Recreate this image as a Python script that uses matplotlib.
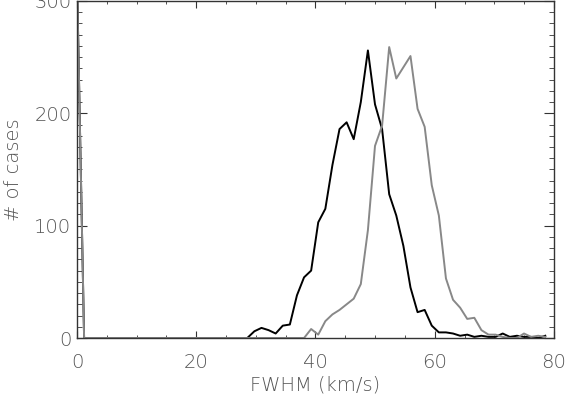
from matplotlib import pyplot as plt
from matplotlib.ticker import MultipleLocator
import numpy as np

# bin width of the histograms (km/s)
dv = 1.19

# counts per bin, index 0 .. 66
black_counts = [320] + [0] * 23 + [
    0, 6, 9, 7, 4, 11, 12, 38, 54, 60,
    103, 115, 154, 186, 192, 177, 210, 256, 208, 186,
    128, 109, 82, 45, 23, 25, 11, 5, 5, 4,
    2, 3, 1, 2, 1, 1, 4, 1, 2, 1,
    1, 0, 2]
gray_counts = [320] + [0] * 31 + [
    0, 8, 3, 15, 21, 25, 30, 35, 48, 96,
    171, 189, 259, 231, 241, 251, 204, 188, 136, 109,
    53, 34, 27, 17, 18, 7, 3, 3, 1, 0,
    0, 4, 1, 2, 1]

x_black = np.arange(len(black_counts)) * dv
x_gray = np.arange(len(gray_counts)) * dv

plt.rcParams["font.family"] = ["DejaVu Sans"]
plt.rcParams["font.weight"] = 200
plt.rcParams["axes.labelweight"] = 200
txt = "#555555"

fig = plt.figure(figsize=(5.65, 3.97), dpi=100)
ax = fig.add_axes([0.1363, 0.1486, 0.8442, 0.8489])

ax.plot(x_black, black_counts, color="black", lw=1.4)
ax.plot(x_gray, gray_counts, color="#888888", lw=1.4)

ax.set_xlim(0, 80)
ax.set_ylim(0, 300)
ax.xaxis.set_major_locator(MultipleLocator(20))
ax.xaxis.set_minor_locator(MultipleLocator(5))
ax.yaxis.set_major_locator(MultipleLocator(100))
ax.yaxis.set_minor_locator(MultipleLocator(10))

ax.tick_params(axis="x", which="both", direction="in", top=True, bottom=True,
               colors="#333333", labelcolor=txt, labelsize=14, pad=11)
ax.tick_params(axis="x", which="major", length=5)
ax.tick_params(axis="x", which="minor", length=2.5)
ax.tick_params(axis="y", which="both", direction="in", left=True, right=True,
               colors="#333333", labelcolor=txt, labelsize=14, pad=4)
ax.tick_params(axis="y", which="major", length=6.9)
ax.tick_params(axis="y", which="minor", length=3.4)

for s in ax.spines.values():
    s.set_color("#333333")
    s.set_linewidth(1.0)

ax.set_xlabel("FWHM (km/s)", fontsize=14, color=txt, labelpad=2, fontweight=200)
ax.set_ylabel("# of cases", fontsize=14, color=txt, labelpad=8, fontweight=200)

plt.savefig("out.png", dpi=100)
